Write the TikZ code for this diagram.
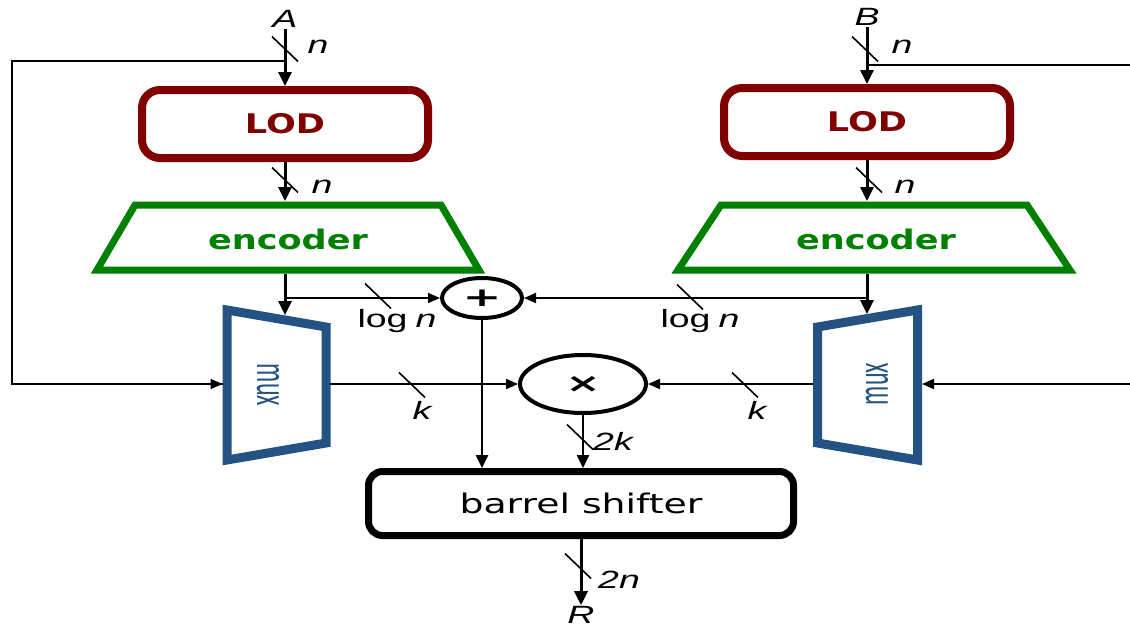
\documentclass[tikz,border=0pt]{standalone}
\usepackage{fontspec}
\setmainfont{Liberation Sans}
\newfontfamily\labfont[FakeStretch=1.5]{Liberation Sans}
\newfontfamily\boxfont[FakeStretch=1.3]{DejaVu Sans}
\newfontfamily\barrelfont[FakeStretch=1.4]{DejaVu Sans}
\newfontfamily\muxfont{Carlito}
\usetikzlibrary{arrows.meta,shapes.geometric}
\definecolor{lodred}{RGB}{128,0,0}
\definecolor{encgreen}{RGB}{0,128,0}
\definecolor{muxblue}{RGB}{36,82,130}
\tikzset{
  lodbox/.style={draw=lodred, line width=8pt, rounded corners=18pt, minimum width=286pt, minimum height=68pt, inner sep=0pt, text=lodred, font=\boxfont\bfseries\fontsize{27}{27}\selectfont},
  enctext/.style={text=encgreen, inner sep=0pt, font=\boxfont\bfseries\fontsize{27}{27}\selectfont},
  encshape/.style={draw=encgreen, line width=7pt, line join=miter},
  muxshape/.style={draw=muxblue, line width=9pt, line join=miter},
  muxtext/.style={text=muxblue, inner sep=0pt, font=\muxfont\fontsize{24}{24}\selectfont},
  opnode/.style={draw, ellipse, line width=4pt, inner sep=0pt},
  barrelbox/.style={draw, line width=7pt, rounded corners=14pt, minimum width=425pt, minimum height=64pt, inner sep=0pt, font=\barrelfont\fontsize{27}{27}\selectfont},
  lab/.style={font=\labfont\itshape\fontsize{25}{25}\selectfont, inner sep=1pt},
  thickarrow/.style={line width=3pt, -{Triangle[length=14pt,width=13pt]}},
  medarrow/.style={line width=2.5pt, -{Triangle[length=13pt,width=12pt]}},
  thinarrow/.style={line width=1.8pt, -{Triangle[length=12pt,width=10pt]}},
  fbline/.style={line width=2.2pt},
  slashline/.style={line width=1.6pt}
}
\newcommand\slashat[1]{\draw[slashline] (#1) ++(-13,-12.5) -- ++(26,25);}
\begin{document}
\begin{tikzpicture}[x=1pt,y=-1pt]
\useasboundingbox (0,0) rectangle (1130,629);
% labels of inputs/outputs
\node[lab] (A) at (285,19) {A};
\node[lab] (B) at (867,17) {B};
\node[lab] (R) at (581,615) {R};
% LOD boxes
\node[lodbox] (lodA) at (285,124) {LOD};
\node[lodbox] (lodB) at (867,122) {LOD};
% encoders
\draw[encshape] (135,205) -- (441,205) -- (479,270) -- (97,270) -- cycle;
\draw[encshape] (721,205) -- (1027,205) -- (1070,270) -- (678,270) -- cycle;
\node[enctext] (encA) at (288,239) {encoder};
\node[enctext] (encB) at (876,239) {encoder};
% muxes
\draw[muxshape] (227,310) -- (326,327) -- (326,443) -- (227,460) -- cycle;
\draw[muxshape] (817.5,327) -- (917.5,310) -- (917.5,460) -- (817.5,443) -- cycle;
\node[muxtext, rotate=-90] (muxA) at (268,385) {\scalebox{1}[1.9]{mux}};
\node[muxtext, rotate=90] (muxB) at (877,384) {\scalebox{1}[1.9]{mux}};
% operators
\node[opnode, minimum width=80pt, minimum height=40pt] (plus) at (482,298) {\resizebox{39pt}{16.5pt}{\boxfont\bfseries +}};
\node[opnode, minimum width=126pt, minimum height=58pt] (times) at (583,384) {\resizebox{35pt}{16pt}{\boxfont\bfseries ×}};
% barrel shifter
\node[barrelbox] (barrel) at (581,503.5) {barrel shifter};
% coordinates
\coordinate (jA) at (285,298);
\coordinate (jB) at (867,298);
\coordinate (encAtop) at (285,201);
\coordinate (encBtop) at (867,201);
\coordinate (encAbot) at (285,274);
\coordinate (encBbot) at (867,274);
\coordinate (muxAtop) at (285,315);
\coordinate (muxBtop) at (867,314);
\coordinate (muxAin) at (222.5,384);
\coordinate (muxBin) at (922,384);
\coordinate (muxAout) at (330,384);
\coordinate (muxBout) at (813,384);
\coordinate (ajoint) at (285,61);
\coordinate (bjoint) at (867,65);
\coordinate (fbA) at (12,61);
\coordinate (fbB) at (1131,65);
\coordinate (fbBin) at (1131,384);
% connectors
\draw[thickarrow] (A.south) -- (lodA.north);
\draw[thickarrow] (B.south) -- (lodB.north);
\draw[thickarrow] (lodA.south) -- (encAtop);
\draw[thickarrow] (lodB.south) -- (encBtop);
\draw[thickarrow] (encAbot) -- (muxAtop);
\draw[thickarrow] (encBbot) -- (muxBtop);
\draw[thinarrow] (jA) -- (plus.west);
\draw[thinarrow] (jB) -- (plus.east);
\draw[medarrow] (plus.south) -- (plus.south |- barrel.north);
\draw[medarrow] (times.south) -- (times.south |- barrel.north);
\draw[thinarrow] (muxAout) -- (times.west);
\draw[thinarrow] (muxBout) -- (times.east);
\draw[fbline] (ajoint) -- (fbA) |- (muxAin);
\draw[thinarrow] ([xshift=-40pt]muxAin) -- (muxAin);
\draw[fbline] (bjoint) -- (fbB);
\draw[fbline] (fbBin) -- ([xshift=40pt]muxBin);
\draw[thinarrow] ([xshift=41pt]muxBin) -- (muxBin);
\draw[thickarrow] (barrel.south -| R) -- (R.north);
% bus-width slashes
\slashat{285,49}
\slashat{285,180}
\slashat{865,49}
\slashat{869,180}
\slashat{378,296}
\slashat{690,297}
\slashat{412,385}
\slashat{745,385}
\slashat{580,437}
\slashat{578,566}
% bus-width labels
\node[lab] (nA) at (318,47) {n};
\node[lab] (nA2) at (322,187) {n};
\node[lab] (nB) at (902,47) {n};
\node[lab] (nB2) at (905,187) {n};
\node[lab] (lognA) at (397,321) {\upshape log\hspace{8pt}\itshape n};
\node[lab] (lognB) at (700,321) {\upshape log\hspace{8pt}\itshape n};
\node[lab] (kA) at (422,410) {k};
\node[lab] (kB) at (757,410) {k};
\node[lab] (twok) at (613,441) {2k};
\node[lab] (twon) at (619,580) {2n};
\end{tikzpicture}
\end{document}
